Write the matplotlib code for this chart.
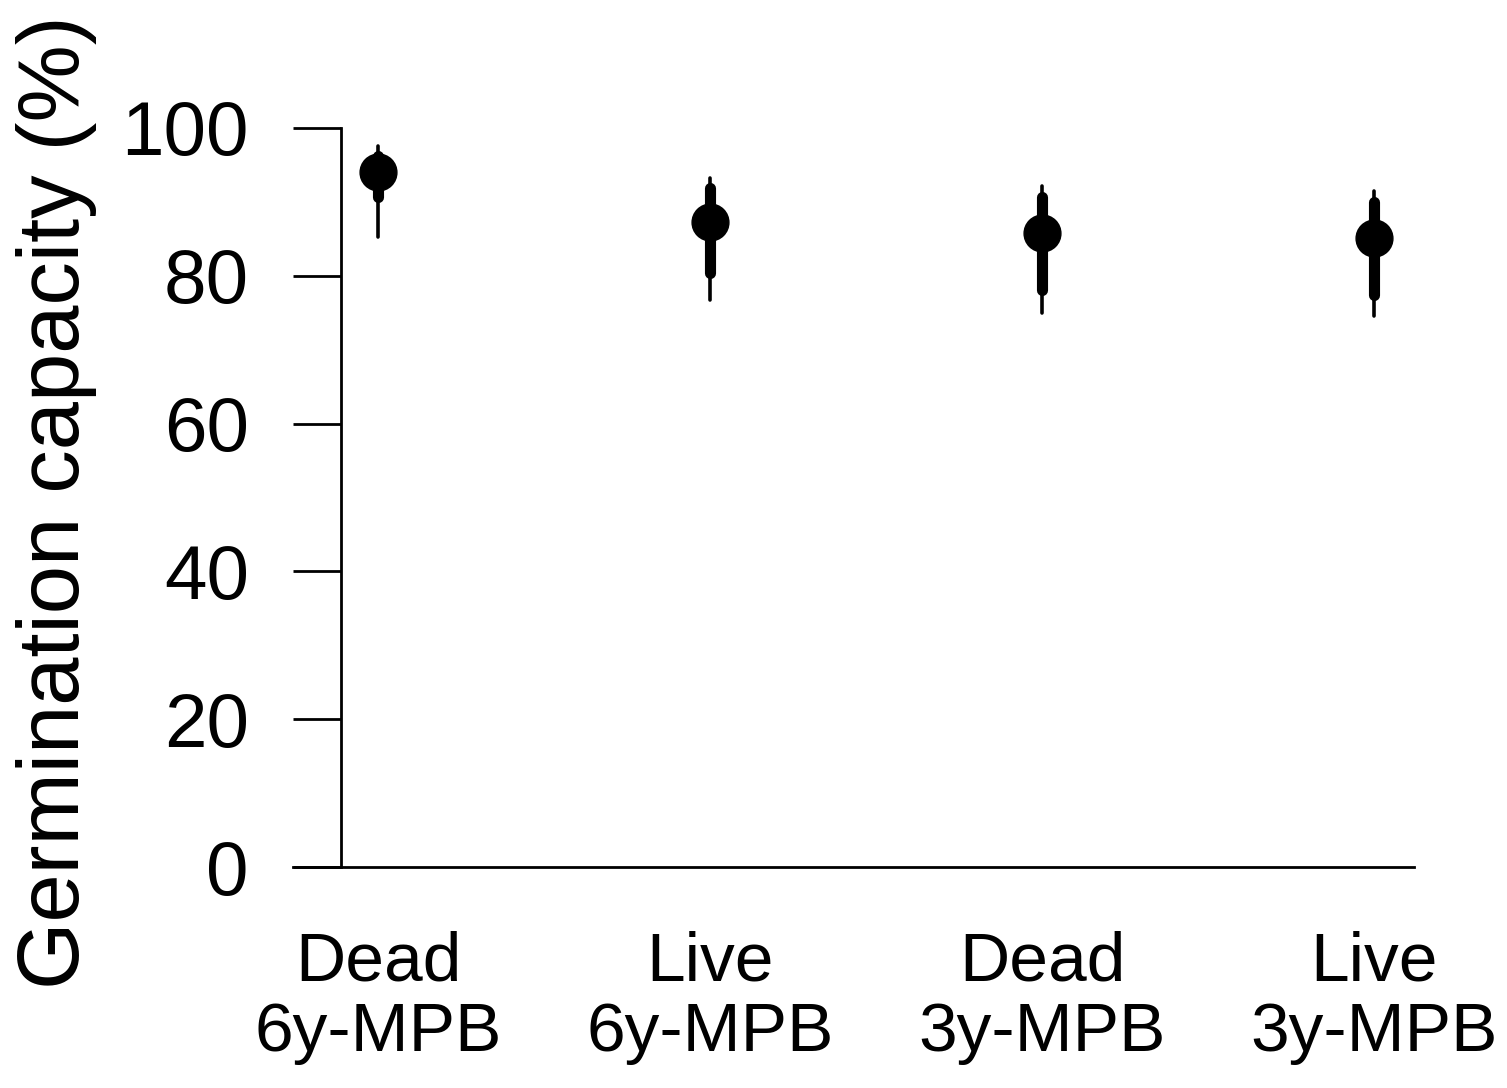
import matplotlib
matplotlib.use('Agg')
import matplotlib.pyplot as plt
import numpy as np

# data
categories = ['Dead\n6y-MPB', 'Live\n6y-MPB', 'Dead\n3y-MPB', 'Live\n3y-MPB']
means = [94.0, 87.3, 85.8, 85.1]
thick_lo = [90.7, 80.4, 78.1, 77.4]   # inner interval
thick_hi = [96.2, 91.9, 90.6, 90.0]
thin_lo = [85.3, 76.7, 74.9, 74.5]    # outer interval
thin_hi = [97.6, 93.2, 92.1, 91.5]
yticks = [0, 20, 40, 60, 80, 100]

plt.rcParams['font.family'] = ['Liberation Sans', 'DejaVu Sans']

fig = plt.figure(figsize=(15.07, 10.88), dpi=100)
ax = fig.add_axes([293 / 1507, 1 - 867 / 1088, (1414 - 293) / 1507, (867 - 128) / 1088])

x = np.arange(len(categories))

# outer (thin) and inner (thick) intervals, then the point
ax.vlines(x, thin_lo, thin_hi, color='black', lw=2.6, capstyle='round')
ax.vlines(x, thick_lo, thick_hi, color='black', lw=8, capstyle='round')
ax.plot(x, means, 'o', color='black', ms=26.5, zorder=3)

ax.set_xlim(-0.256, 3.12)
ax.set_ylim(0, 100)
ax.set_yticks(yticks)
ax.set_xticks(x)
ax.set_xticklabels(categories, fontsize=50, linespacing=1.12)

ax.spines['top'].set_visible(False)
ax.spines['right'].set_visible(False)
ax.spines['left'].set_position(('data', -0.111))
ax.spines['left'].set_linewidth(2)
ax.spines['bottom'].set_linewidth(2)

ax.tick_params(axis='y', direction='out', length=34.5, width=2, pad=32, labelsize=55)
ax.tick_params(axis='x', length=0, pad=46)

fig.text(57 / 1507, 1 - 502 / 1088, 'Germination capacity (%)', rotation=90,
         ha='center', va='center', fontsize=62.5)

fig.savefig('out.png', dpi=100)
